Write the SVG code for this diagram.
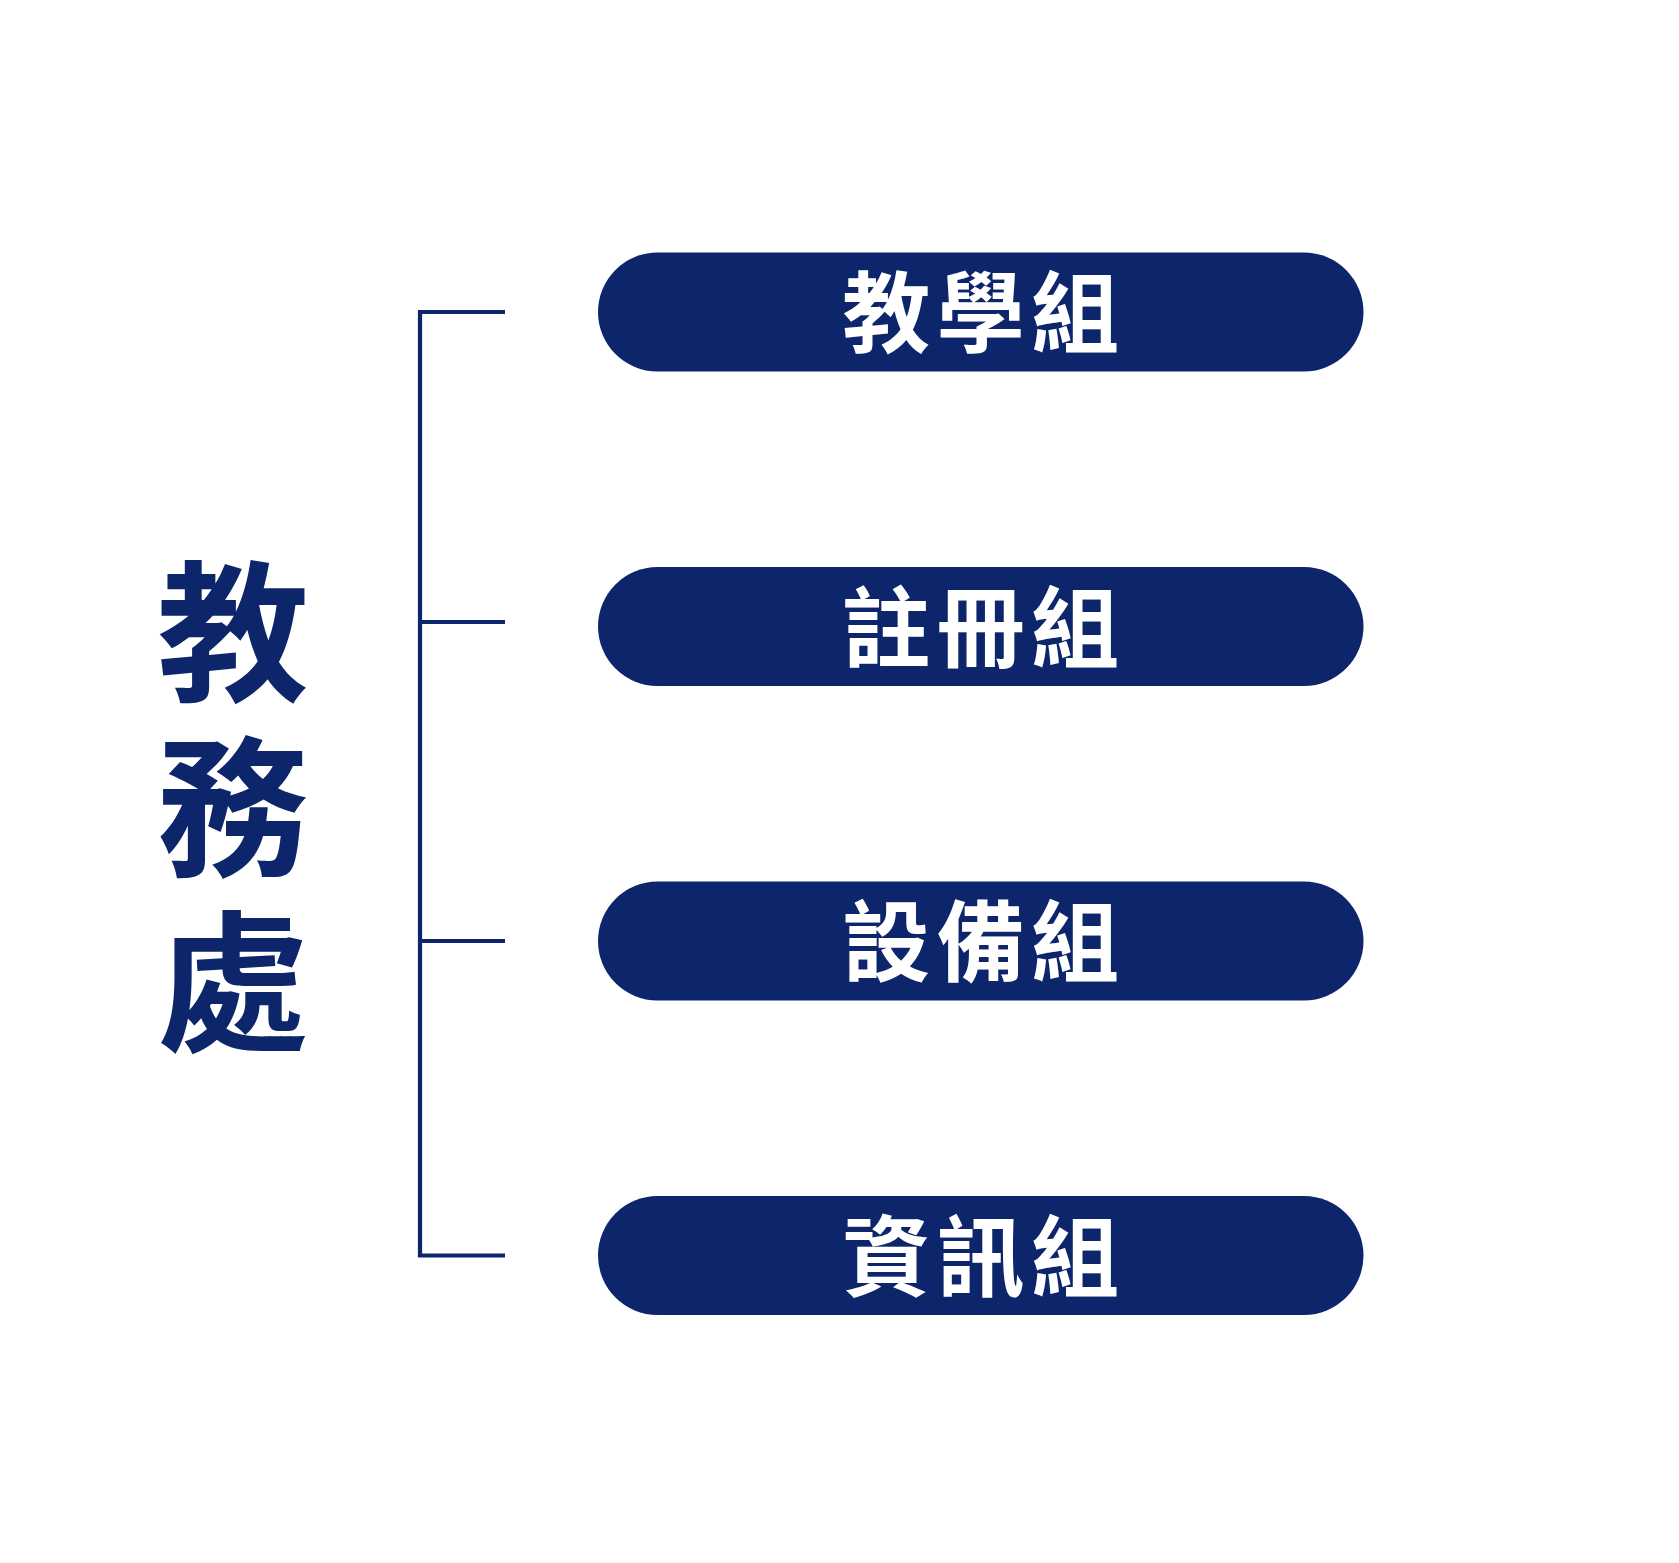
<svg xmlns="http://www.w3.org/2000/svg" width="1679" height="1563" viewBox="0 0 1679 1563">
<style>
.pill{fill:#0c256b}
.lbl{fill:#ffffff;font-family:"Noto Sans CJK TC","Noto Sans CJK SC",sans-serif;font-weight:700;font-size:88px;letter-spacing:6.5px;text-anchor:middle}
.title{fill:#0c256b;font-family:"Noto Sans CJK TC","Noto Sans CJK SC",sans-serif;font-weight:700;font-size:152px;text-anchor:middle;writing-mode:vertical-rl;letter-spacing:23px}
.conn{stroke:#0c256b;stroke-width:4.2;fill:none}
</style>
<rect width="1679" height="1563" fill="#ffffff"/>
<g id="root">
<text class="title" x="233" y="819">教務處</text>
</g>
<g id="connectors">
<path class="conn" d="M505,312 H420 V1255.5 H505"/>
<path class="conn" d="M420,622 H505"/>
<path class="conn" d="M420,941 H505"/>
</g>
<g id="node1">
<rect class="pill" x="598" y="252.5" width="765.5" height="119" rx="59.5"/>
<text class="lbl" x="984" y="345">教學組</text>
</g>
<g id="node2">
<rect class="pill" x="598" y="567" width="765.5" height="119" rx="59.5"/>
<text class="lbl" x="984" y="660">註冊組</text>
</g>
<g id="node3">
<rect class="pill" x="598" y="881.5" width="765.5" height="119" rx="59.5"/>
<text class="lbl" x="984" y="974">設備組</text>
</g>
<g id="node4">
<rect class="pill" x="598" y="1196" width="765.5" height="119" rx="59.5"/>
<text class="lbl" x="984" y="1289">資訊組</text>
</g>
</svg>
